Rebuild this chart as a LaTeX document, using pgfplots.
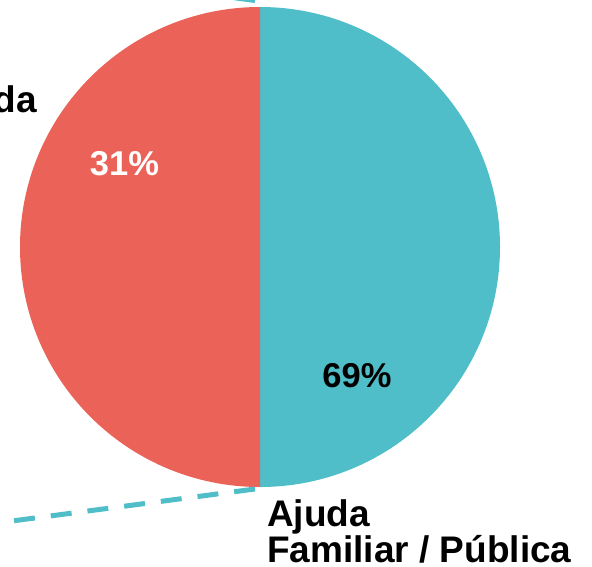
\documentclass[border=0pt]{standalone}
\usepackage{pgfplots}
\pgfplotsset{compat=1.18}
\usepackage{fontspec}
\setmainfont{Liberation Sans}
\definecolor{pieRed}{RGB}{235,99,88}
\definecolor{pieTeal}{RGB}{80,190,200}
\begin{document}
\begin{tikzpicture}
\begin{axis}[x=1pt,y=1pt,xmin=0,xmax=592,ymin=0,ymax=566,
  hide axis, clip=true, clip mode=global,
  /pgf/number format/assume math mode=true]
% pie as drawn: centre (260,319), radius 240, split vertically
\fill[pieTeal] (axis cs:260,319) -- (axis cs:260,559) arc[start angle=90,end angle=-90,radius=240pt] -- cycle;
\fill[pieRed] (axis cs:260,319) -- (axis cs:260,559) arc[start angle=90,end angle=270,radius=240pt] -- cycle;
% leader lines
\draw[pieTeal, line width=5pt, dash pattern=on 21pt off 16pt] (axis cs:255,77) -- (axis cs:12,45);
\draw[pieTeal, line width=5pt, dash pattern=on 21pt off 16pt] (axis cs:255,565.5) -- (axis cs:12,598);
% labels
\node[white, font=\bfseries\fontsize{34.5}{36}\selectfont, anchor=base] at (axis cs:124.5,391) {31\%};
\node[black, font=\bfseries\fontsize{34.5}{36}\selectfont, anchor=base] at (axis cs:357,179) {69\%};
\node[black, font=\bfseries\fontsize{37}{33}\selectfont, anchor=base east, inner sep=0pt] at (axis cs:37,453) {Sem Ajuda};
\node[black, font=\bfseries\fontsize{37}{33}\selectfont, anchor=base west, inner sep=0pt, align=left] at (axis cs:267,4) {Ajuda\\Familiar / Pública};
\end{axis}
\pgfresetboundingbox
\path (current axis.south west) rectangle (current axis.north east);
\end{tikzpicture}
\end{document}
